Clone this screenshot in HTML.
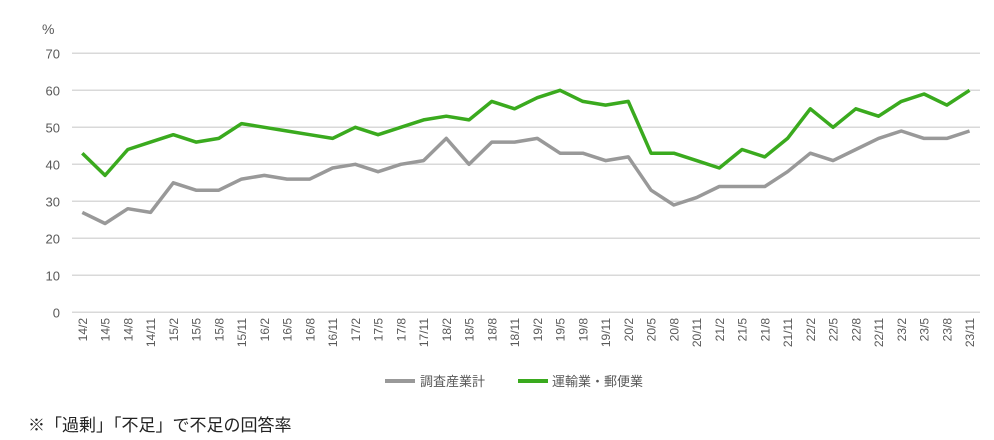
<!DOCTYPE html>
<html><head><meta charset="utf-8"><style>
body{margin:0;background:#fff;}
svg{display:block;font-family:"Liberation Sans","Noto Sans CJK JP",sans-serif;}
</style></head><body>
<svg width="994" height="440" viewBox="0 0 994 440" xmlns="http://www.w3.org/2000/svg">
<g id="g"></g>
<text x="42" y="34" font-size="14" fill="#595959">%</text>
<line x1="385" y1="381" x2="415" y2="381" stroke="#999" stroke-width="4"/>
<text x="420" y="386" font-size="13" fill="#595959">調査産業計</text>
<line x1="518" y1="381" x2="548" y2="381" stroke="#3aaa1e" stroke-width="4"/>
<text x="552" y="386" font-size="13" fill="#595959">運輸業・郵便業</text>
<text x="28" y="431" font-size="17" fill="#222">※「過剰」「不足」で不足の回答率</text>
</svg>
<script>
const g=document.getElementById('g');const ns='http://www.w3.org/2000/svg';
let h='';
const Y=v=>312.3-v*(259/70);
for(let v=0;v<=70;v+=10){h+=`<line x1="72" x2="980" y1="${Y(v)}" y2="${Y(v)}" stroke="#d9d9d9" stroke-width="1.5"/>`;
h+=`<text x="60" y="${Y(v)+5}" font-size="13" fill="#595959" text-anchor="end">${v}</text>`;}
const labs=[];for(let y=14;y<=23;y++)for(const m of[2,5,8,11])labs.push(y+'/'+m);
const X=i=>82.3+i*22.75;
labs.forEach((l,i)=>{h+=`<text transform="translate(${X(i)+4.5},318) rotate(-90)" font-size="12" fill="#595959" text-anchor="end">${l}</text>`;});
const a=[27,24,28,27,35,33,33,36,37,36,36,39,40,38,40,41,47,40,46,46,47,43,43,41,42,33,29,31,34,34,34,38,43,41,44,47,49,47,47,49];
const b=[43,37,44,46,48,46,47,51,50,49,48,47,50,48,50,52,53,52,57,55,58,60,57,56,57,43,43,41,39,44,42,47,55,50,55,53,57,59,56,60];
const pl=(d,c)=>`<polyline fill="none" stroke="${c}" stroke-width="3.5" stroke-linejoin="round" points="${d.map((v,i)=>X(i)+','+Y(v)).join(' ')}"/>`;
h+=pl(a,'#999')+pl(b,'#3aaa1e');
g.innerHTML=h;
</script>
</body></html>
